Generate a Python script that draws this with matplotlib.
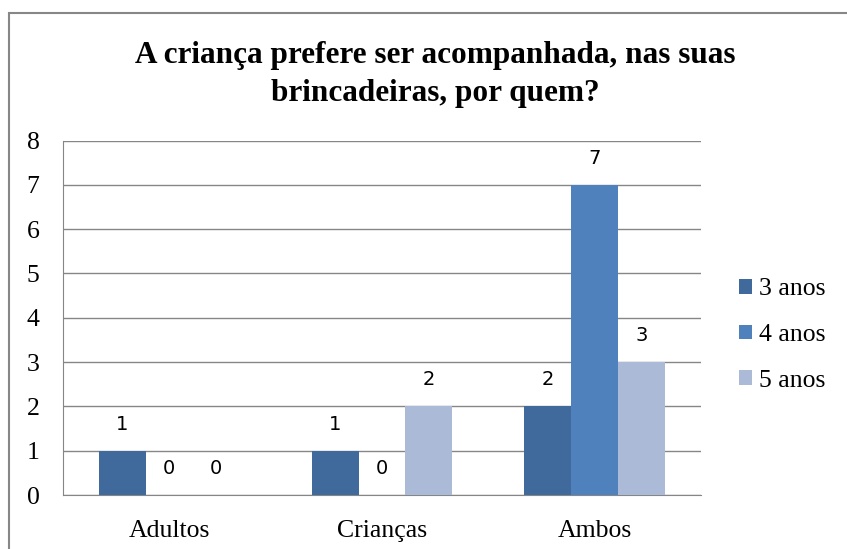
import numpy as np
import matplotlib.pyplot as plt
from matplotlib.patches import Rectangle

# data
categorias = ["Adultos", "Crianças", "Ambos"]
series = ["3 anos", "4 anos", "5 anos"]
anos3 = [1, 1, 2]
anos4 = [0, 0, 7]
anos5 = [0, 2, 3]
cores = ["#406A9B", "#4F81BD", "#AABAD7"]

W, H = 847, 549
fig = plt.figure(figsize=(W / 100, H / 100), dpi=100)

# chart border
fig.patches.append(Rectangle((9 / W, -0.1), 1.2, 1 - 13 / H + 0.1,
                             transform=fig.transFigure, fill=False,
                             edgecolor="#878787", linewidth=1.5))

ax = fig.add_axes([63 / W, 1 - 495 / H, (701 - 63) / W, (495 - 140.5) / H])

x = np.arange(len(categorias))
bw = 0.221
valores = [anos3, anos4, anos5]
for i, (vals, nome, cor) in enumerate(zip(valores, series, cores)):
    pos = x + (i - 1) * bw
    ax.bar(pos, vals, width=bw, color=cor, label=nome, zorder=3)
    for p, v in zip(pos, vals):
        ax.text(p, v + 0.6, str(v), ha="center", va="center",
                fontsize=14, family="DejaVu Sans", color="black")

ax.set_xlim(-0.5, 2.5)
ax.set_ylim(0, 8)
ax.set_yticks(range(0, 9))
ax.set_xticks(x)
ax.set_xticklabels(categorias)
ax.grid(axis="y", color="#868686", linewidth=1, zorder=0)
for lado in ["top", "right"]:
    ax.spines[lado].set_visible(False)
ax.spines["left"].set_color("#868686")
ax.spines["bottom"].set_color("#868686")
ax.tick_params(length=0, labelsize=18.5)
ax.tick_params(axis="x", pad=18)
ax.tick_params(axis="y", pad=17)
for t in ax.get_xticklabels() + ax.get_yticklabels():
    t.set_family("Liberation Serif")

fig.text(435 / W, 1 - 56 / H, "A criança prefere ser acompanhada, nas suas",
         ha="center", va="center", fontsize=22.5, fontweight="bold",
         family="Liberation Serif")
fig.text(435 / W, 1 - 93 / H, "brincadeiras, por quem?",
         ha="center", va="center", fontsize=22.5, fontweight="bold",
         family="Liberation Serif")

leg = ax.legend(loc="center left", bbox_to_anchor=(729 / W, 1 - 335 / H),
                bbox_transform=fig.transFigure, frameon=False,
                prop={"family": "Liberation Serif", "size": 18.5},
                handlelength=0.5, handleheight=0.5, handletextpad=0.25,
                labelspacing=0.92, borderaxespad=0, borderpad=0.4)

fig.savefig("out.png", dpi=100)
